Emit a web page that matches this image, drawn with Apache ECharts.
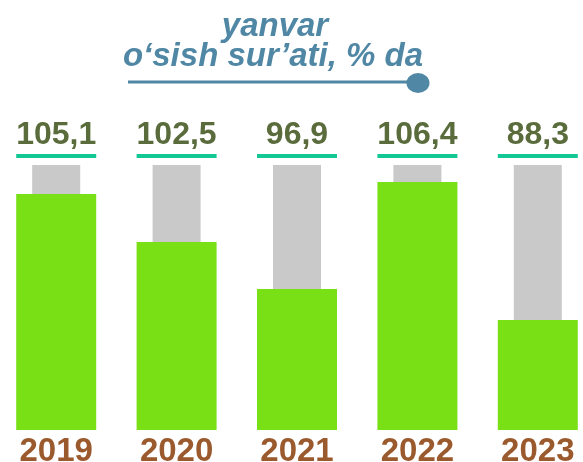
<!DOCTYPE html>
<html lang="uz">
<head>
    <meta charset="utf-8" />
    <title>yanvar o‘sish sur’ati</title>
    <script src="https://cdn.jsdelivr.net/npm/echarts@6/dist/echarts.min.js"></script>
    <style>
        html, body { margin: 0; padding: 0; background: #fff; }
    </style>
</head>
<body>
    <div id="box" style="width:583px;height:462px"></div>
    <script>
        // yillar
        var years = ['2019', '2020', '2021', '2022', '2023'];
        // o'sish sur'ati, % (yozuvlar)
        var growth = [105.1, 102.5, 96.9, 106.4, 88.3];
        // yashil ustun balandligi (rasmdan o'qilgan, kulrang = 100)
        var barLevel = [89.1, 70.9, 53.2, 93.6, 41.5];
        var fullLevel = [100, 100, 100, 100, 100];

        var font = 'Liberation Sans, Arial, sans-serif';
        var myChart = echarts.init(document.getElementById('box'));

        var option = {
            animation: false,
            grid: {
                left: -4,
                width: 602,
                top: 165,
                bottom: 32,
                outerBoundsMode: 'none',
                containLabel: false
            },
            xAxis: [
                {
                    type: 'category',
                    data: years,
                    axisLine: { show: false },
                    axisTick: { show: false },
                    axisLabel: {
                        margin: 6,
                        color: '#9A5A2E',
                        fontFamily: font,
                        fontWeight: 'bold',
                        fontSize: 33,
                        lineHeight: 32
                    }
                },
                {
                    // kulrang fon uchun
                    type: 'category',
                    data: years,
                    show: false
                }
            ],
            yAxis: {
                type: 'value',
                min: 0,
                max: 100,
                show: false,
                splitLine: { show: false }
            },
            series: [
                {
                    // kulrang fon
                    type: 'bar',
                    xAxisIndex: 1,
                    data: fullLevel,
                    barWidth: 48,
                    itemStyle: { color: '#C9C9C9' },
                    label: {
                        show: true,
                        position: 'top',
                        distance: 7,
                        formatter: function (p) {
                            return '{v|' + growth[p.dataIndex].toFixed(1).replace('.', ',') + '}\n{u|}';
                        },
                        rich: {
                            v: {
                                color: '#5A6B3C',
                                fontFamily: font,
                                fontWeight: 'bold',
                                fontSize: 32,
                                lineHeight: 38
                            },
                            u: {
                                width: 80,
                                height: 4,
                                lineHeight: 4,
                                backgroundColor: '#14C896'
                            }
                        }
                    },
                    z: 1
                },
                {
                    type: 'bar',
                    xAxisIndex: 0,
                    data: barLevel,
                    barWidth: 80,
                    itemStyle: { color: '#79E016' },
                    z: 2
                }
            ],
            graphic: [
                {
                    type: 'text',
                    style: {
                        text: 'yanvar',
                        x: 275, y: 27,
                        align: 'center',
                        verticalAlign: 'middle',
                        fill: '#4F87A5',
                        font: 'italic bold 33px ' + font
                    }
                },
                {
                    type: 'text',
                    style: {
                        text: 'o‘sish sur’ati, % da',
                        x: 273, y: 57,
                        align: 'center',
                        verticalAlign: 'middle',
                        fill: '#4F87A5',
                        font: 'italic bold 33px ' + font
                    }
                },
                {
                    type: 'line',
                    shape: { x1: 128, y1: 82, x2: 416, y2: 82 },
                    style: { stroke: '#4F87A5', lineWidth: 3 }
                },
                {
                    type: 'circle',
                    x: 418, y: 83,
                    scaleX: 1.15,
                    shape: { cx: 0, cy: 0, r: 10 },
                    style: { fill: '#4F87A5' }
                }
            ]
        };

        myChart.setOption(option);
    </script>
</body>
</html>
